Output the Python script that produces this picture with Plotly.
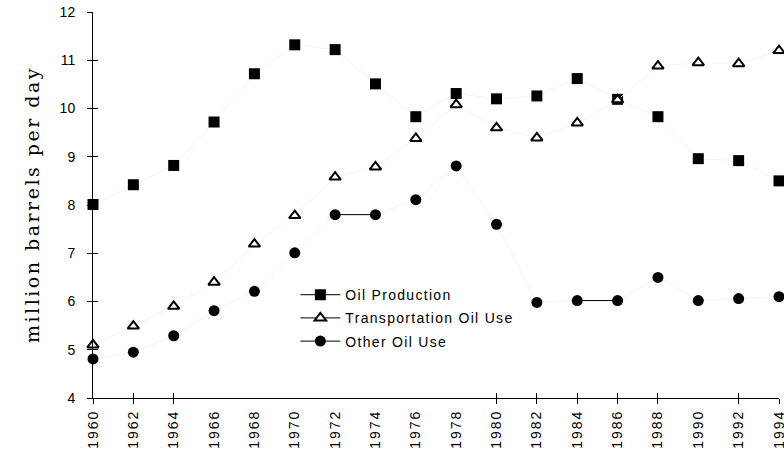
import plotly.graph_objects as go

# ---------------- data ----------------
years = [1960, 1962, 1964, 1966, 1968, 1970, 1972, 1974, 1976,
         1978, 1980, 1982, 1984, 1986, 1988, 1990, 1992, 1994]
oil_production = [8.01, 8.42, 8.82, 9.72, 10.72, 11.32, 11.22, 10.51, 9.83,
                  10.31, 10.20, 10.26, 10.62, 10.19, 9.83, 8.96, 8.92, 8.50]
transport_use = [5.10, 5.49, 5.90, 6.40, 7.19, 7.78, 8.58, 8.79, 9.38,
                 10.08, 9.60, 9.39, 9.70, 10.18, 10.88, 10.95, 10.93, 11.20]
other_use = [4.81, 4.95, 5.29, 5.81, 6.21, 7.01, 7.80, 7.80, 8.11,
             8.81, 7.60, 5.98, 6.02, 6.02, 6.50, 6.02, 6.06, 6.10]
series_names = ["Oil Production", "Transportation Oil Use", "Other Oil Use"]
y_tick_values = [4, 5, 6, 7, 8, 9, 10, 11, 12]
x_tick_marks = [1960, 1962, 1964, 1980, 1982, 1984, 1986, 1988, 1992, 1994]
y_title = "million barrels per day"

# ---------------- styles ----------------
FONT = "Liberation Sans"
faint = "#f4f4f4"
styles = [
    dict(symbol="square", size=11, color="black", line=dict(width=0)),
    dict(symbol="triangle-up", size=10, color="white", line=dict(color="black", width=2)),
    dict(symbol="circle", size=11, color="black", line=dict(width=0)),
]
all_series = [oil_production, transport_use, other_use]

def spaced(txt, px):
    return f'<span style="letter-spacing:{px}px">{txt}</span>'

fig = go.Figure()

for name, vals, mk in zip(series_names, all_series, styles):
    fig.add_trace(go.Scatter(
        x=years, y=vals, mode="lines+markers",
        line=dict(color=faint, width=1),
        marker=mk, showlegend=False, cliponaxis=False, hoverinfo="skip"))
    # equal consecutive values render as crisp black horizontal segments
    for i in range(len(vals) - 1):
        if vals[i] == vals[i + 1]:
            fig.add_trace(go.Scatter(
                x=[years[i], years[i + 1]], y=[vals[i], vals[i + 1]],
                mode="lines", line=dict(color="black", width=1),
                showlegend=False, hoverinfo="skip"))

# legend-only entries (black line with marker)
for k, (name, mk) in enumerate(zip(series_names, styles)):
    fig.add_trace(go.Scatter(
        x=[None], y=[None], mode="lines+markers", name=spaced(name, 1.3),
        legendgroup=f"g{k}",
        line=dict(color="black", width=1), marker=mk))

# overlay axes carrying the crossing tick marks
fig.add_trace(go.Scatter(x=[None], y=[None], xaxis="x2", yaxis="y2",
                         showlegend=False, hoverinfo="skip"))
fig.add_trace(go.Scatter(x=[None], y=[None], xaxis="x3", yaxis="y",
                         showlegend=False, hoverinfo="skip"))

xr = [years[0], years[-1]]
yr = [y_tick_values[0], y_tick_values[-1]]

fig.update_layout(
    width=784, height=451,
    margin=dict(l=93, r=5, t=12, b=53, autoexpand=False),
    paper_bgcolor="white", plot_bgcolor="white",
    font=dict(family=FONT, size=14, color="black"),
    showlegend=True,
    legend=dict(x=0.295, y=0.308, xanchor="left", yanchor="top",
                bgcolor="rgba(0,0,0,0)", font=dict(family=FONT, size=14),
                itemwidth=40, traceorder="grouped", tracegroupgap=2,
                itemclick=False, itemdoubleclick=False),
    xaxis=dict(range=xr, tickmode="array", tickvals=years,
               ticktext=[spaced(str(y), 2) for y in years],
               tickangle=-90, ticks="outside", ticklen=5,
               tickcolor="rgba(0,0,0,0)", ticklabeloverflow="allow",
               showline=True, linecolor="black", linewidth=1,
               showgrid=False, zeroline=False, fixedrange=True,
               tickfont=dict(family=FONT, size=14)),
    xaxis2=dict(range=xr, overlaying="x", anchor="y", side="bottom",
                tickmode="array", tickvals=x_tick_marks, showticklabels=False,
                ticks="inside", ticklen=5, tickcolor="black", tickwidth=1,
                showline=False, showgrid=False, zeroline=False, fixedrange=True),
    xaxis3=dict(range=xr, overlaying="x", anchor="y", side="bottom",
                tickmode="array", tickvals=x_tick_marks, showticklabels=False,
                ticks="outside", ticklen=5, tickcolor="black", tickwidth=1,
                showline=False, showgrid=False, zeroline=False, fixedrange=True),
    yaxis=dict(range=yr, tickmode="array", tickvals=y_tick_values,
               ticks="outside", ticklen=5, tickcolor="black", tickwidth=1,
               ticklabelstandoff=9,
               showline=True, linecolor="black", linewidth=1,
               showgrid=False, zeroline=False, fixedrange=True,
               tickfont=dict(family=FONT, size=14)),
    yaxis2=dict(range=yr, overlaying="y", anchor="x", side="left",
                tickmode="array", tickvals=y_tick_values, showticklabels=False,
                ticks="inside", ticklen=5, tickcolor="black", tickwidth=1,
                showline=False, showgrid=False, zeroline=False, fixedrange=True),
    annotations=[dict(text=spaced(y_title, 2.5), textangle=-90,
                      xref="paper", yref="paper",
                      x=(32 - 93) / 686, y=0.5, xanchor="center", yanchor="middle",
                      showarrow=False,
                      font=dict(family="DejaVu Serif", size=19, color="black"))],
)

fig.write_html("out.html", config={"displayModeBar": False},
               post_script="document.body.style.margin='0';document.body.style.overflow='hidden';")
